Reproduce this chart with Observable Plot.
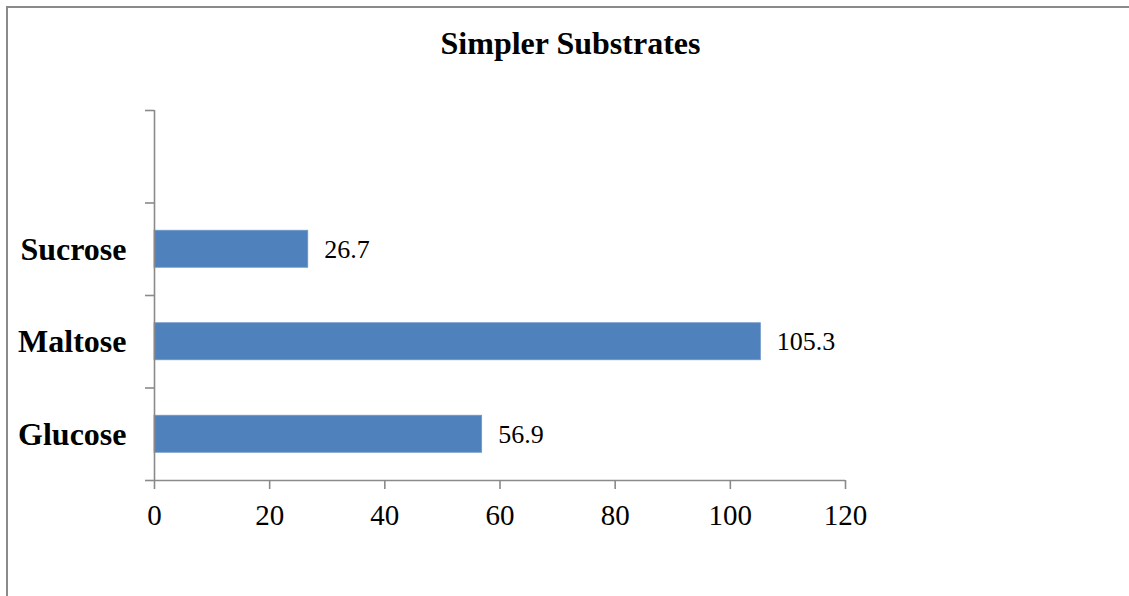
<!DOCTYPE html>
<html>
<head>
<meta charset="utf-8">
<script src="https://cdn.jsdelivr.net/npm/d3@7"></script>
<script src="https://cdn.jsdelivr.net/npm/@observablehq/plot@0.6"></script>
<style>
  html, body { margin: 0; padding: 0; background: #fff; }
  #wrap { position: relative; width: 1129px; height: 596px; overflow: hidden; }
  #frame { position: absolute; left: 6px; top: 6px; width: 1200px; height: 700px;
           border-left: 2px solid #8a8a8a; border-top: 2px solid #8a8a8a; box-sizing: border-box; }
  #title { position: absolute; left: 0; top: 27px; width: 1141px; text-align: center;
           font: bold 32px/32px "Liberation Serif", "Times New Roman", serif; color: #000; }
  #chart { position: absolute; left: 0; top: 0; }
</style>
</head>
<body>
<div id="wrap">
  <div id="frame"></div>
  <div id="title">Simpler Substrates</div>
  <div id="chart"></div>
</div>
<script>
const categories = ["Glucose", "Maltose", "Sucrose"];
const values = [56.9, 105.3, 26.7];
const xTicks = [0, 20, 40, 60, 80, 100, 120];
const slotCount = 4; // three categories plus one empty slot at the top

const data = categories.map((c, i) => ({category: c, value: values[i], slot: i}));
const gray = "#8a8a8a";
const serif = "'Liberation Serif', 'Times New Roman', serif";

const chart = Plot.plot({
  width: 1129,
  height: 596,
  marginLeft: 154,
  marginRight: 284,
  marginTop: 110,
  marginBottom: 116,
  style: {background: "transparent", fontFamily: serif, color: "#000", overflow: "visible"},
  x: {domain: [0, 120]},
  y: {domain: [0, slotCount]},
  marks: [
    Plot.rectX(data, {
      x1: 0, x2: "value",
      y1: d => d.slot + 0.3, y2: d => d.slot + 0.7,
      fill: "#4F81BD", stroke: "#6d95c9", strokeWidth: 0.8
    }),
    Plot.ruleX([0], {y1: 0, y2: slotCount, stroke: gray, strokeWidth: 1.6}),
    Plot.ruleY([0], {x1: 0, x2: 120, stroke: gray, strokeWidth: 1.6}),
    Plot.axisX({ticks: xTicks, tickSize: 9, tickPadding: 15, stroke: gray, strokeWidth: 1.6,
      strokeOpacity: 1, fontSize: 29, fill: "#000", tickFormat: d => String(d), label: null}),
    Plot.axisY({ticks: d3.range(0, slotCount + 1), tickSize: 9, stroke: gray, strokeWidth: 1.6,
      strokeOpacity: 1, tickFormat: () => "", label: null}),
    Plot.text(data, {
      x: 0, y: d => d.slot + 0.5, text: "category", dx: -28, textAnchor: "end",
      fontSize: 32, fontWeight: "bold", fill: "#000"
    }),
    Plot.text(data, {
      x: "value", y: d => d.slot + 0.5, text: d => d.value.toFixed(1), dx: 16, textAnchor: "start",
      fontSize: 26, fill: "#000"
    })
  ]
});
document.getElementById("chart").appendChild(chart);
</script>
</body>
</html>
